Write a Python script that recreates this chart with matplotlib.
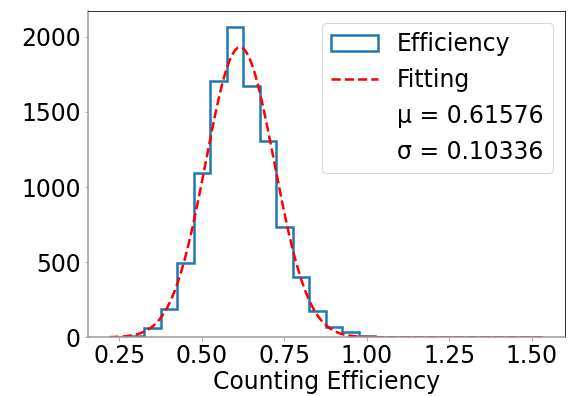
import numpy as np
import matplotlib
matplotlib.use("Agg")
import matplotlib.pyplot as plt

# histogram (bin width 0.05)
bin_edges = [0.225, 0.275, 0.325, 0.375, 0.425, 0.475, 0.525, 0.575, 0.625,
             0.675, 0.725, 0.775, 0.825, 0.875, 0.925, 0.975, 1.025, 1.075,
             1.125, 1.175, 1.225, 1.275, 1.325, 1.375, 1.425, 1.475, 1.525]
counts = [2, 8, 64, 185, 495, 1095, 1704, 2066, 1673, 1307, 733, 404, 174,
          68, 33, 10, 3, 1, 1, 0, 0, 0, 0, 0, 0, 1]

mu = 0.61576
sigma = 0.10336
n_total = 10000
bin_width = 0.05
fit_range = [0.22, 1.535]

plt.rcParams['font.size'] = 23.5
fig = plt.figure(figsize=(573 / 72, 396 / 72), dpi=72)
ax = fig.add_axes([87.7 / 573, 1 - 337.3 / 396, (565 - 87.7) / 573, (337.3 - 11.3) / 396])

centers = [(bin_edges[i] + bin_edges[i + 1]) / 2 for i in range(len(counts))]
ax.hist(centers, bins=bin_edges, weights=counts, histtype='step',
        linewidth=2.5, color='tab:blue', label='Efficiency')

x = np.linspace(fit_range[0], fit_range[1], 500)
amp = n_total * bin_width / (np.sqrt(2 * np.pi) * sigma)
ax.plot(x, amp * np.exp(-(x - mu) ** 2 / (2 * sigma ** 2)), 'r--',
        linewidth=2.5, label='Fitting')
ax.plot([], [], ' ', label='μ = %.5f' % mu)
ax.plot([], [], ' ', label='σ = %.5f' % sigma)

ax.set_xlabel('Counting Efficiency', labelpad=2)
ax.set_xticks([0.25, 0.5, 0.75, 1.0, 1.25, 1.5])
ax.set_yticks([0, 500, 1000, 1500, 2000])
for side in ['left', 'bottom']:
    ax.spines[side].set_color('#999999')
    ax.spines[side].set_linewidth(1.5)
ax.tick_params(color='#999999')
ax.legend(loc='upper right')

fig.savefig('out.png', dpi=72)
